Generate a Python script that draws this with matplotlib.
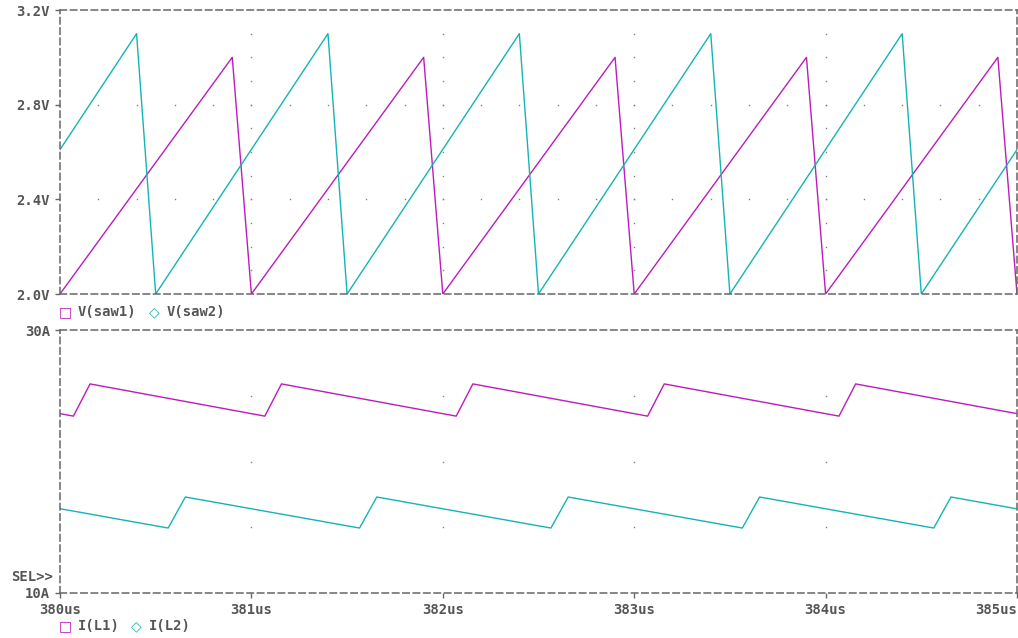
import matplotlib
matplotlib.use("Agg")
import matplotlib.pyplot as plt
import numpy as np

# breakpoints (time in us)
saw1_t = [380.0, 380.9, 381.0, 381.9, 382.0, 382.9, 383.0, 383.9, 384.0, 384.9, 385.0]
saw1_v = [2.0, 3.0, 2.0, 3.0, 2.0, 3.0, 2.0, 3.0, 2.0, 3.0, 2.0]

saw2_t = [380.0, 380.4, 380.5, 381.4, 381.5, 382.4, 382.5, 383.4, 383.5, 384.4, 384.5, 385.0]
saw2_v = [2.61, 3.1, 2.0, 3.1, 2.0, 3.1, 2.0, 3.1, 2.0, 3.1, 2.0, 2.61]

il1_t = [380.0, 380.07, 380.157, 381.07, 381.157, 382.07, 382.157,
         383.07, 383.157, 384.07, 384.157, 385.0]
il1_v = [23.64, 23.45, 25.9, 23.45, 25.9, 23.45, 25.9,
         23.45, 25.9, 23.45, 25.9, 23.64]

il2_t = [380.0, 380.565, 380.655, 381.565, 381.655, 382.565, 382.655,
         383.565, 383.655, 384.565, 384.655, 385.0]
il2_v = [16.41, 14.94, 17.3, 14.94, 17.3, 14.94, 17.3,
         14.94, 17.3, 14.94, 17.3, 16.4]

x_ticks = [380, 381, 382, 383, 384, 385]
x_labels = ["380us", "381us", "382us", "383us", "384us", "385us"]
v_ticks = [2.0, 2.4, 2.8, 3.2]
v_labels = ["2.0V", "2.4V", "2.8V", "3.2V"]
i_ticks = [10, 30]
i_labels = ["10A", "30A"]

MAG = "#BB1CBB"
CYN = "#14B4B4"
GRAY = "#555555"
DOT = "#808080"
FONT = dict(family="DejaVu Sans Mono", weight="bold", size=10, color=GRAY)

fig = plt.figure(figsize=(10.18, 6.38), dpi=100)
W, H = 1018, 638
left, right = 60 / W, 1017 / W
ax1 = fig.add_axes([left, 1 - 294 / H, right - left, (294 - 10) / H])
ax2 = fig.add_axes([left, 1 - 593 / H, right - left, (593 - 330) / H])


def style(ax):
    for sp in ax.spines.values():
        sp.set_linestyle((0, (4.2, 2.6)))
        sp.set_color("#666666")
        sp.set_linewidth(1.1)
    ax.tick_params(axis="both", direction="out", length=3.6, width=1.0,
                   color="#666666", pad=3.5)
    for lab in ax.get_yticklabels() + ax.get_xticklabels():
        lab.set_fontfamily(FONT["family"])
        lab.set_fontweight(FONT["weight"])
        lab.set_fontsize(FONT["size"])
        lab.set_color(GRAY)


# top panel
ax1.plot(saw1_t, saw1_v, color=MAG, lw=1.0)
ax1.plot(saw2_t, saw2_v, color=CYN, lw=1.0)
ax1.set_xlim(380, 385)
ax1.set_ylim(2.0, 3.2)
ax1.set_yticks(v_ticks)
ax1.set_yticklabels(v_labels)
ax1.set_xticks([])
# dotted grid: vertical lines dotted every 0.1V, horizontal every 0.2us
gx = np.repeat(x_ticks[1:-1], 11)
gy = np.tile(np.round(np.arange(2.1, 3.15, 0.1), 2), 4)
ax1.plot(gx, gy, ls="none", marker="s", ms=1.0, mew=0, color=DOT)
hx = np.tile(np.round(np.arange(380.2, 385.0, 0.2), 2), 2)
hy = np.repeat([2.4, 2.8], len(hx) // 2)
ax1.plot(hx, hy, ls="none", marker="s", ms=1.0, mew=0, color=DOT)
style(ax1)

# bottom panel
ax2.plot(il1_t, il1_v, color=MAG, lw=1.0)
ax2.plot(il2_t, il2_v, color=CYN, lw=1.0)
ax2.set_xlim(380, 385)
ax2.set_ylim(10, 30)
ax2.set_yticks(i_ticks)
ax2.set_yticklabels(i_labels)
ax2.set_xticks(x_ticks)
ax2.set_xticklabels(x_labels)
bx = np.repeat(x_ticks[1:-1], 3)
by = np.tile([15, 20, 25], 4)
ax2.plot(bx, by, ls="none", marker="s", ms=1.0, mew=0, color=DOT)
style(ax2)
# last label sits flush with the right edge in the reference
ax2.get_xticklabels()[-1].set_horizontalalignment("right")

# legends and labels
def fx(px):
    return px / W


def fy(py):
    return 1 - py / H


fig.text(fx(65), fy(312), "\u25a1", color=MAG, ha="center", va="center",
         family="DejaVu Sans", size=10)
fig.text(fx(78), fy(312), "V(saw1)", ha="left", va="center", **FONT)
fig.text(fx(154), fy(312), "\u25c7", color=CYN, ha="center", va="center",
         family="DejaVu Sans", size=10)
fig.text(fx(167), fy(312), "V(saw2)", ha="left", va="center", **FONT)

fig.text(fx(65), fy(626), "\u25a1", color=MAG, ha="center", va="center",
         family="DejaVu Sans", size=10)
fig.text(fx(78), fy(626), "I(L1)", ha="left", va="center", **FONT)
fig.text(fx(136), fy(626), "\u25c7", color=CYN, ha="center", va="center",
         family="DejaVu Sans", size=10)
fig.text(fx(149), fy(626), "I(L2)", ha="left", va="center", **FONT)

fig.text(fx(53), fy(577), "SEL>>", ha="right", va="center", **FONT)

fig.savefig("out.png", dpi=100)
